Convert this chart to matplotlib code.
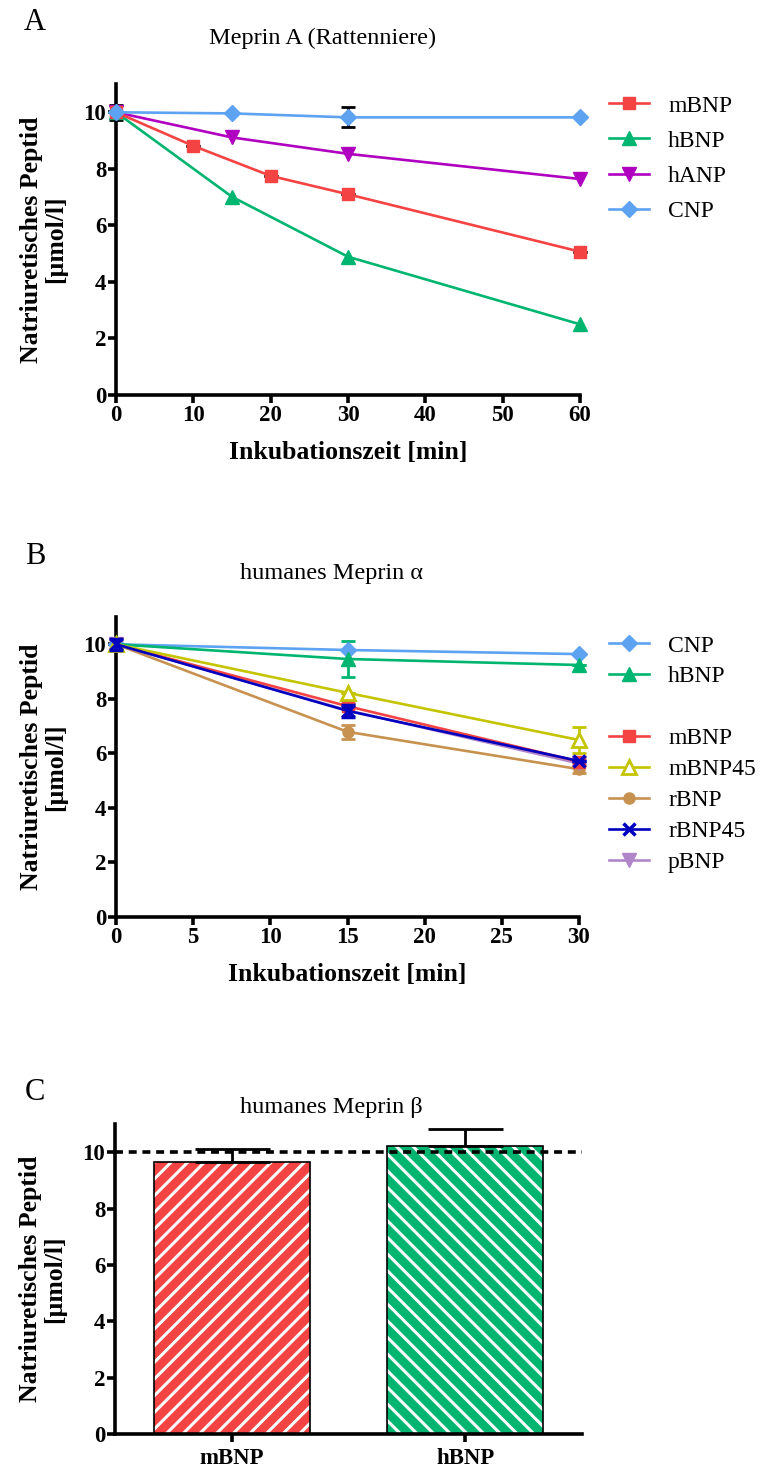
import numpy as np
import matplotlib
matplotlib.use("Agg")
import matplotlib.pyplot as plt
from matplotlib.lines import Line2D

plt.rcParams['font.family'] = ['Liberation Serif', 'DejaVu Serif']
plt.rcParams['hatch.linewidth'] = 2.2

# ---- Panel A: Meprin A (Rattenniere) ----
a_t_mbnp = [0, 10, 20, 30, 60]
a_mbnp = [10.0, 8.81, 7.75, 7.10, 5.07]
a_t_hbnp = [0, 15, 30, 60]
a_hbnp = [10.0, 7.01, 4.89, 2.50]
a_t_hanp = [0, 15, 30, 60]
a_hanp = [10.0, 9.11, 8.53, 7.64]
a_t_cnp = [0, 15, 30, 60]
a_cnp = [10.0, 9.96, 9.82, 9.82]
a_cnp_err = [0.0, 0.0, 0.35, 0.0]
a_mbnp_err = [0.27, 0.0, 0.0, 0.0, 0.0]

# ---- Panel B: humanes Meprin alpha ----
b_t = [0, 15, 30]
b_cnp = [10.0, 9.79, 9.64]
b_hbnp = [10.0, 9.46, 9.24]
b_hbnp_err = [0.0, 0.65, 0.0]
b_mbnp = [10.0, 7.73, 5.70]
b_mbnp45 = [10.0, 8.22, 6.49]
b_mbnp45_err = [0.0, 0.0, 0.47]
b_rbnp = [10.0, 6.79, 5.42]
b_rbnp_err = [0.0, 0.25, 0.15]
b_rbnp45 = [10.0, 7.56, 5.72]
b_rbnp45_err = [0.2, 0.21, 0.0]
b_pbnp = [10.0, 7.58, 5.63]

# ---- Panel C: humanes Meprin beta ----
c_names = ['mBNP', 'hBNP']
c_vals = [9.64, 10.23]
c_err = [0.46, 0.60]

RED = '#F44343'
GREEN = '#00B56F'
PURPLE = '#B000C0'
BLUE = '#5DA3F2'
YELLOW = '#C4C400'
TAN = '#C79250'
NAVY = '#0000BE'
LILAC = '#B086C8'

W, H = 761, 1470
fig = plt.figure(figsize=(W / 100, H / 100), dpi=100)


def px_axes(left, right, top, bottom):
    return fig.add_axes([left / W, 1 - bottom / H, (right - left) / W, (bottom - top) / H])


def style(ax):
    for s in ['top', 'right']:
        ax.spines[s].set_visible(False)
    for s in ['left', 'bottom']:
        ax.spines[s].set_linewidth(2.6)
    ax.tick_params(direction='out', length=6, width=2.6, labelsize=16.5, pad=1)
    for lab in ax.get_xticklabels() + ax.get_yticklabels():
        lab.set_fontweight('bold')
    ax.set_ylim(0, 11)
    ax.set_yticks([0, 2, 4, 6, 8, 10])
    ax.set_ylabel('Natriuretisches Peptid\n[µmol/l]', fontsize=18.5, fontweight='bold', linespacing=1.05)
    ax.yaxis.set_label_coords(-0.105, 0.5)


lw = 1.9

# Panel A
axA = px_axes(116, 580, 84, 395)
axA.set_xlim(0, 60)
axA.errorbar(a_t_mbnp, a_mbnp, yerr=a_mbnp_err, color=RED, marker='s', ms=8.5, lw=lw,
             ecolor='black', elinewidth=2, capsize=5, capthick=2, clip_on=False, zorder=3)
axA.plot(a_t_hbnp, a_hbnp, color=GREEN, marker='^', ms=10, lw=lw, clip_on=False, zorder=3)
axA.plot(a_t_hanp, a_hanp, color=PURPLE, marker='v', ms=10, lw=lw, clip_on=False, zorder=3)
axA.errorbar(a_t_cnp, a_cnp, yerr=a_cnp_err, color=BLUE, marker='D', ms=8, lw=lw,
             ecolor='black', elinewidth=2, capsize=5, capthick=2, clip_on=False, zorder=4)
axA.set_xticks([0, 10, 20, 30, 40, 50, 60])
axA.set_xlabel('Inkubationszeit [min]', fontsize=18.5, fontweight='bold', labelpad=11)
style(axA)
hA = [Line2D([], [], color=RED, marker='s', ms=8.5, lw=lw),
      Line2D([], [], color=GREEN, marker='^', ms=10, lw=lw),
      Line2D([], [], color=PURPLE, marker='v', ms=10, lw=lw),
      Line2D([], [], color=BLUE, marker='D', ms=8, lw=lw)]
lA = ['mBNP', 'hBNP', 'hANP', 'CNP']
fig.legend(hA, lA, loc='upper left', bbox_to_anchor=(609 / W, 1 - 95 / H), frameon=False,
           fontsize=17, handlelength=1.7, handletextpad=0.8, labelspacing=0.58, borderpad=0, borderaxespad=0)

# Panel B
axB = px_axes(116, 579, 617, 917)
axB.set_xlim(0, 30)
eb = dict(elinewidth=2, capsize=5, capthick=2, clip_on=False)
axB.errorbar(b_t, b_cnp, color=BLUE, marker='D', ms=8, lw=lw, zorder=3, clip_on=False)
axB.errorbar(b_t, b_hbnp, yerr=b_hbnp_err, color=GREEN, marker='^', ms=10, lw=lw, zorder=3, **eb)
axB.plot(b_t, b_rbnp, color=TAN, marker='o', ms=8, lw=lw, zorder=3, clip_on=False)
axB.errorbar(b_t, b_rbnp, yerr=b_rbnp_err, color=TAN, fmt='none', zorder=3, **eb)
axB.plot(b_t, b_pbnp, color=LILAC, marker='v', ms=10, lw=lw, zorder=3, clip_on=False)
axB.plot(b_t, b_mbnp, color=RED, marker='s', ms=8.5, lw=lw, zorder=3, clip_on=False)
axB.errorbar(b_t, b_mbnp45, yerr=b_mbnp45_err, color=YELLOW, marker='^', ms=10, mfc='white', mew=2,
             lw=lw, zorder=3, **eb)
axB.errorbar(b_t, b_rbnp45, yerr=b_rbnp45_err, color=NAVY, marker='x', ms=9, mew=2.5, lw=lw, zorder=4, **eb)
axB.set_xticks([0, 5, 10, 15, 20, 25, 30])
axB.set_xlabel('Inkubationszeit [min]', fontsize=18.5, fontweight='bold', labelpad=11)
style(axB)
blank = Line2D([], [], color='none')
hB = [Line2D([], [], color=BLUE, marker='D', ms=8, lw=lw),
      Line2D([], [], color=GREEN, marker='^', ms=10, lw=lw),
      blank,
      Line2D([], [], color=RED, marker='s', ms=8.5, lw=lw),
      Line2D([], [], color=YELLOW, marker='^', ms=10, mfc='white', mew=2, lw=lw),
      Line2D([], [], color=TAN, marker='o', ms=8, lw=lw),
      Line2D([], [], color=NAVY, marker='x', ms=9, mew=2.5, lw=lw),
      Line2D([], [], color=LILAC, marker='v', ms=10, lw=lw)]
lB = ['CNP', 'hBNP', '', 'mBNP', 'mBNP45', 'rBNP', 'rBNP45', 'pBNP']
fig.legend(hB, lB, loc='upper left', bbox_to_anchor=(609 / W, 1 - 635 / H), frameon=False,
           fontsize=17, handlelength=1.7, handletextpad=0.8, labelspacing=0.40, borderpad=0, borderaxespad=0)

# Panel C
axC = px_axes(115, 582, 1124, 1434)
axC.set_xlim(-0.5, 1.5)
xc = np.arange(len(c_names))
fills = [RED, GREEN]
hatches = ['//', '\\\\']
for i in range(len(c_names)):
    axC.bar(xc[i], c_vals[i], width=0.667, color=fills[i], edgecolor='white', hatch=hatches[i], lw=0, zorder=2)
    axC.bar(xc[i], c_vals[i], width=0.667, color='none', edgecolor='black', lw=1.2, zorder=3)
axC.errorbar(xc, c_vals, yerr=[np.zeros(len(c_err)), c_err], fmt='none', ecolor='black',
             elinewidth=2, capsize=27, capthick=2, zorder=4, clip_on=False)
axC.axhline(10, color='black', lw=2.6, ls=(0, (2.2, 1.6)), zorder=5, clip_on=False)
axC.set_xticks(xc)
axC.set_xticklabels(c_names)
style(axC)
axC.tick_params(axis='x', pad=4)
for lab in axC.get_xticklabels():
    lab.set_fontweight('bold')

# Titles and panel letters
fig.text(323 / W, 1 - 38 / H, 'Meprin A (Rattenniere)', fontsize=17.5, ha='center', va='center')
fig.text(331 / W, 1 - 573 / H, 'humanes Meprin α', fontsize=17.5, ha='center', va='center')
fig.text(331 / W, 1 - 1108 / H, 'humanes Meprin β', fontsize=17.5, ha='center', va='center')
fig.text(35 / W, 1 - 22 / H, 'A', fontsize=22, ha='center', va='center')
fig.text(35 / W, 1 - 557 / H, 'B', fontsize=22, ha='center', va='center')
fig.text(35 / W, 1 - 1092 / H, 'C', fontsize=22, ha='center', va='center')

fig.savefig('out.png', dpi=100)
